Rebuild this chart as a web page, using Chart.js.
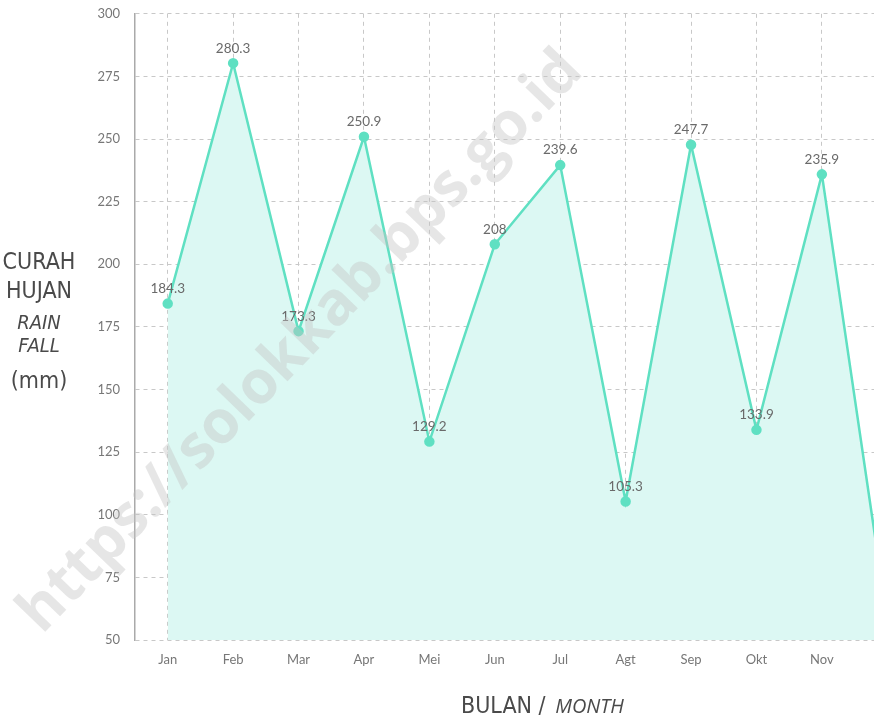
<!DOCTYPE html>
<html>
<head>
<meta charset="utf-8">
<script src="https://cdn.jsdelivr.net/npm/chart.js@4"></script>
<style>
  html, body { margin: 0; padding: 0; background: #fff; overflow: hidden; }
  #wrap { position: relative; width: 930px; height: 721px; }
  #rain-chart { position: absolute; left: 0; top: -9px; }
  .cond {
    font-family: "DejaVu Sans Condensed", "DejaVu Sans", sans-serif;
    font-stretch: condensed; color: #4a4a4a;
  }
  #ytitle {
    position: absolute; left: 0; top: 247px; width: 78px;
    text-align: center; font-size: 23px; line-height: 29px;
  }
  #ytitle i { display: block; font-size: 20px; line-height: 23px; margin-top: 6px; }
  #ytitle span { display: block; margin-top: 9px; }
  #xtitle { position: absolute; left: 461px; top: 692px; font-size: 23px; }
  #xtitle i { font-family: "Open Sans", sans-serif; font-size: 20px; margin-left: 3px; font-stretch: normal; }
  #mark {
    position: absolute; left: 297px; top: 338px; white-space: nowrap;
    font-family: "Open Sans", sans-serif; font-weight: 700; font-size: 60px;
    color: rgba(195, 195, 195, 0.42);
    transform: translate(-50%, -50%) rotate(-46deg);
    pointer-events: none;
  }
</style>
</head>
<body>
<div id="wrap">
  <canvas id="rain-chart" width="930" height="730"></canvas>
  <div id="ytitle" class="cond">CURAH<br>HUJAN<i>RAIN<br>FALL</i><span>(mm)</span></div>
  <div id="xtitle" class="cond">BULAN / <i>MONTH</i></div>
  <div id="mark">https://solokkab.bps.go.id</div>
</div>
<script>
const months = ["Jan", "Feb", "Mar", "Apr", "Mei", "Jun", "Jul", "Agt", "Sep", "Okt", "Nov", "Des"];
const rainfall = [184.3, 280.3, 173.3, 250.9, 129.2, 208, 239.6, 105.3, 247.7, 133.9, 235.9, 58];
const yTicks = [50, 75, 100, 125, 150, 175, 200, 225, 250, 275, 300];

const lineColor = "#5fe0c2";

// value labels above each point
const valueLabels = {
  id: "valueLabels",
  afterDatasetsDraw(chart) {
    const ctx = chart.ctx;
    const meta = chart.getDatasetMeta(0);
    ctx.save();
    ctx.font = "13.5px Lato";
    ctx.fillStyle = "#6a6a6a";
    ctx.textAlign = "center";
    ctx.textBaseline = "middle";
    meta.data.forEach((pt, i) => {
      ctx.fillText(String(rainfall[i]), pt.x, pt.y - 15);
    });
    ctx.restore();
  },
};

const rainChart = new Chart(document.getElementById("rain-chart"), {
  type: "line",
  data: {
    labels: months,
    datasets: [
      {
        data: rainfall,
        borderColor: lineColor,
        backgroundColor: "#dcf8f3",
        pointBackgroundColor: lineColor,
        pointBorderColor: lineColor,
        pointRadius: 4,
        borderWidth: 2.5,
        tension: 0,
        fill: "start",
      },
    ],
  },
  options: {
    responsive: false,
    animation: false,
    layout: { padding: { top: 4, left: 0, right: 10, bottom: 0 } },
    plugins: { legend: { display: false }, tooltip: { enabled: false } },
    scales: {
      x: {
        offset: true,
        afterFit: (s) => { s.height = 81; },
        grid: { offset: false, color: "#c8c8c8", drawTicks: false },
        border: { display: false, dash: [4, 4] },
        ticks: { color: "#777", font: { family: "Lato", size: 13 }, padding: 12 },
      },
      y: {
        min: 50,
        max: 300,
        afterFit: (s) => { s.width = 135; },
        afterBuildTicks: (s) => { s.ticks = yTicks.map((v) => ({ value: v })); },
        grid: { color: "#c8c8c8", drawTicks: false },
        border: { display: true, color: "#aaa", width: 1.5, dash: [4, 4] },
        ticks: { color: "#777", font: { family: "Lato", size: 13 }, padding: 15 },
      },
    },
  },
  plugins: [valueLabels],
});
</script>
</body>
</html>
